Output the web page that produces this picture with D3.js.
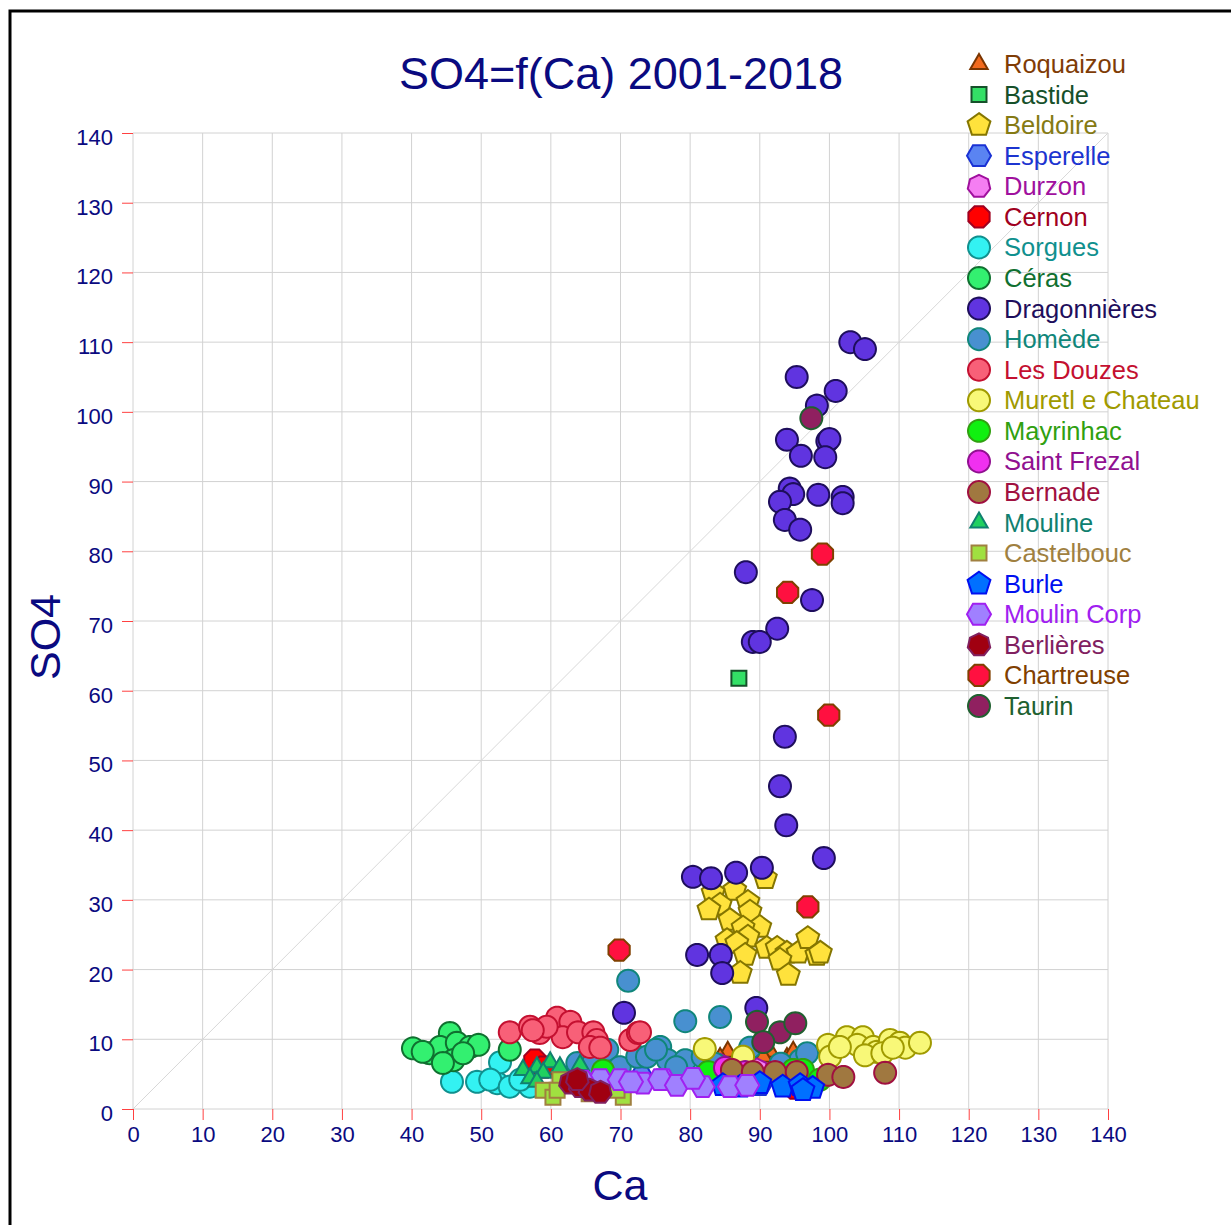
<!DOCTYPE html>
<html><head><meta charset="utf-8">
<script src="https://cdn.jsdelivr.net/npm/d3@7"></script>
<style>body{margin:0;background:#fff}svg{display:block}text{font-family:Arial,"Liberation Sans",sans-serif}</style>
</head><body>
<svg id="c" width="1231" height="1225"></svg>
<script>
const seriesNames = ["Roquaizou","Bastide","Beldoire","Esperelle","Durzon","Cernon","Sorgues","Céras","Dragonnières","Homède","Les Douzes","Muretl e Chateau","Mayrinhac","Saint Frezal","Bernade","Mouline","Castelbouc","Burle","Moulin Corp","Berlières","Chartreuse","Taurin"];
const xTicks = [0,10,20,30,40,50,60,70,80,90,100,110,120,130,140];
const yTicks = [0,10,20,30,40,50,60,70,80,90,100,110,120,130,140];

const roquaizou = [[85.4,8.2],[91.5,8.2],[93.9,7.3],[94.8,8.2],[90.5,7.5],[84.3,7.3],[88.2,7.0]];
const bastide = [[87.0,61.8]];
const beldoire = [[90.8,33.1],[86.4,31.4],[83.3,31.0],[88.3,29.7],[84.3,29.3],[82.7,28.6],[88.6,28.3],[85.7,27.1],[90.0,26.1],[87.6,26.0],[88.3,24.7],[85.3,24.2],[86.7,23.8],[91.0,23.1],[92.5,23.1],[93.9,22.4],[87.9,22.1],[95.5,22.4],[96.9,24.5],[98.2,22.1],[92.9,21.4],[87.2,19.5],[94.1,19.2],[98.7,22.4]];
const esperelle = [[73.0,4.5],[85.0,4.0],[90.0,3.5],[95.0,4.0]];
const durzon = [[84.3,6.3],[85.3,5.6],[88.6,5.3],[89.6,5.6]];
const cernon = [[57.7,7.0],[59.0,6.0],[68.0,5.0],[88.0,4.0],[95.0,3.0]];
const sorgues = [[45.8,3.9],[49.4,3.9],[52.3,3.7],[52.7,6.7],[51.3,4.2],[54.1,3.2],[57.0,3.2],[55.6,4.2]];
const ceras = [[40.2,8.7],[45.5,10.9],[42.6,8.0],[44.1,8.9],[46.5,9.5],[48.4,8.9],[49.6,9.2],[46.0,7.0],[44.5,6.6],[47.4,8.0],[41.6,8.2],[54.1,8.5]];
const dragonnieres = [[103.0,110.0],[105.1,109.0],[95.3,105.0],[100.9,103.0],[98.2,100.9],[93.9,96.0],[99.7,95.8],[100.0,96.1],[95.9,93.7],[99.4,93.5],[94.3,89.0],[94.8,88.2],[98.4,88.1],[92.9,87.1],[101.9,87.8],[101.9,86.9],[93.6,84.5],[95.8,83.1],[88.0,77.0],[97.5,73.0],[92.5,68.9],[89.0,67.0],[90.0,67.0],[93.6,53.4],[92.9,46.3],[93.8,40.7],[99.2,36.0],[80.4,33.3],[83.0,33.1],[86.6,33.9],[90.3,34.6],[81.0,22.1],[84.4,22.1],[84.6,19.5],[70.5,13.8],[89.5,14.5]];
const homede = [[71.1,18.4],[79.3,12.6],[84.3,13.2],[63.8,6.6],[68.1,8.5],[69.9,6.0],[72.4,7.5],[73.8,7.5],[75.7,8.9],[76.8,7.0],[79.3,7.0],[81.8,7.5],[88.6,8.8],[95.8,7.0],[96.8,8.0],[75.1,8.5],[66.0,6.5],[78.0,6.0],[83.5,6.5],[93.0,6.5]];
const lesDouzes = [[54.1,11.0],[57.0,11.8],[60.9,13.1],[62.8,12.5],[58.4,10.9],[61.7,10.3],[63.9,11.0],[66.1,11.0],[66.6,9.9],[65.6,8.9],[67.1,8.8],[71.4,9.9],[72.5,10.9],[59.4,11.8],[57.4,11.3],[72.8,11.0]];
const muretlChateau = [[82.1,8.6],[87.6,7.5],[99.8,9.2],[100.1,7.5],[102.5,10.3],[104.8,10.3],[104.0,9.2],[106.3,8.9],[106.8,8.2],[108.7,9.9],[110.1,9.5],[110.9,8.8],[113.0,9.5],[105.1,7.7],[107.6,8.0],[109.1,8.8],[101.5,8.9]];
const mayrinhac = [[82.6,5.3],[94.8,5.6],[96.2,5.6],[98.6,4.2],[67.5,5.5]];
const saintFrezal = [[85.0,5.9],[87.9,5.3],[88.9,4.4]];
const bernade = [[108.0,5.2],[99.8,4.9],[102.0,4.6],[92.2,5.3],[95.3,5.3],[86.0,5.6],[89.0,5.3]];
const mouline = [[56.0,5.6],[58.0,6.0],[59.9,6.7],[61.3,6.0],[64.2,6.3],[57.0,4.4],[58.9,5.2],[58.0,3.9]];
const castelbouc = [[58.9,2.7],[60.3,1.7],[61.3,4.2],[60.9,2.7],[70.4,1.7],[69.5,2.7],[65.5,2.2]];
const burle = [[84.7,3.4],[87.2,3.2],[90.0,3.7],[93.3,3.2],[95.8,3.4],[97.6,3.0],[96.2,2.7]];
const moulinCorp = [[67.1,4.2],[69.9,4.2],[73.2,3.7],[76.1,4.2],[75.7,4.2],[78.1,3.4],[81.8,3.2],[85.7,3.2],[88.2,3.4],[80.4,4.4],[64.5,4.0],[71.5,3.9]];
const berlieres = [[62.8,3.7],[64.2,3.2],[65.6,2.7],[67.1,2.4],[63.8,4.2]];
const chartreuse = [[99.0,79.6],[94.0,74.1],[99.9,56.5],[96.9,29.0],[69.8,22.8]];
const taurin = [[97.4,99.1],[89.6,12.5],[92.9,11.0],[95.1,12.3],[90.5,9.6]];

const seriesData = [roquaizou,bastide,beldoire,esperelle,durzon,cernon,sorgues,ceras,dragonnieres,homede,lesDouzes,muretlChateau,mayrinhac,saintFrezal,bernade,mouline,castelbouc,burle,moulinCorp,berlieres,chartreuse,taurin];

// styles: [shape, fill, stroke, textColor]
const styles = [
 ["tri","#f26a1e","#7a3500","#7f3c06"],
 ["sq","#33e066","#16502a","#16502a"],
 ["pent","#ffe23c","#857600","#857a14"],
 ["hex","#5a84f2","#1a32d4","#1c34d0"],
 ["hept","#f57ef2","#a0109e","#a0109e"],
 ["oct","#ff0000","#a00020","#a00020"],
 ["circ","#33f2f2","#10908e","#10908e"],
 ["circ","#33f070","#107030","#107030"],
 ["circ","#6034e0","#1e0e5c","#1e0e5c"],
 ["circ","#4890d0","#10867a","#10867a"],
 ["circ","#f86078","#c41030","#c41030"],
 ["circ","#f8f878","#a09a00","#a09a00"],
 ["circ","#10f010","#30a010","#30a010"],
 ["circ","#f030f0","#901090","#901090"],
 ["circ","#a07840","#a01040","#a01040"],
 ["tri","#20d060","#108070","#108070"],
 ["sq","#a0e040","#a08040","#a08040"],
 ["pent","#0070ff","#0010f0","#0010f0"],
 ["hex","#a080ff","#a020f0","#a020f0"],
 ["hept","#a00010","#802060","#802060"],
 ["oct","#ff1040","#804000","#804000"],
 ["circ","#902060","#206030","#206030"]
];

function poly(n, r, rot){
  const pts=[];
  for(let k=0;k<n;k++){const a=rot+k*2*Math.PI/n;pts.push([r*Math.cos(a),r*Math.sin(a)]);}
  return "M"+pts.map(p=>p[0].toFixed(2)+","+p[1].toFixed(2)).join("L")+"Z";
}
function shapePath(s){
  switch(s){
    case "tri": return poly(3,10,-Math.PI/2);
    case "sq": return "M-7.5,-7.5L7.5,-7.5L7.5,7.5L-7.5,7.5Z";
    case "pent": return poly(5,12,-Math.PI/2);
    case "hex": return poly(6,12,0);
    case "hept": return poly(7,11.5,-Math.PI/2);
    case "oct": return poly(8,11.5,Math.PI/8);
    default: return poly(40,11,0);
  }
}

const svg = d3.select("#c");
const x = d3.scaleLinear().domain([0,140]).range([133,1108]);
const y = d3.scaleLinear().domain([0,140]).range([1109,133]);
const navy = "#0a0a80";

// frame
svg.append("rect").attr("x",10).attr("y",11).attr("width",1240).attr("height",1240).attr("fill","none").attr("stroke","#000").attr("stroke-width",3);

// grid
const g = svg.append("g");
g.selectAll(".vx").data(xTicks).join("line").attr("x1",d=>x(d)).attr("x2",d=>x(d)).attr("y1",y(0)).attr("y2",y(140)).attr("stroke","#d2d2d2").attr("stroke-width",1);
g.selectAll(".hy").data(yTicks).join("line").attr("y1",d=>y(d)).attr("y2",d=>y(d)).attr("x1",x(0)).attr("x2",x(140)).attr("stroke","#d2d2d2").attr("stroke-width",1);
g.append("line").attr("x1",x(0)).attr("y1",y(0)).attr("x2",x(140)).attr("y2",y(140)).attr("stroke","#d8d8d8").attr("stroke-width",1);

// axes
const xa = svg.append("g").attr("transform",`translate(0,${y(0)})`).call(d3.axisBottom(x).tickValues(xTicks).tickSize(11).tickPadding(6));
xa.select(".domain").remove();
xa.selectAll(".tick line").attr("stroke","#ff4040").attr("stroke-width",1);
xa.selectAll(".tick text").attr("fill",navy).style("font-size","22px");
const ya = svg.append("g").attr("transform",`translate(${x(0)},0)`).call(d3.axisLeft(y).tickValues(yTicks).tickSize(11).tickPadding(9));
ya.select(".domain").remove();
ya.selectAll(".tick line").attr("stroke","#ff4040").attr("stroke-width",1);
ya.selectAll(".tick text").attr("fill",navy).style("font-size","22px").attr("dy","0.52em");

// titles
svg.append("text").attr("x",621).attr("y",89).attr("text-anchor","middle").attr("fill",navy).style("font-size","45px").text("SO4=f(Ca) 2001-2018");
svg.append("text").attr("x",620).attr("y",1200).attr("text-anchor","middle").attr("fill",navy).style("font-size","43px").text("Ca");
svg.append("text").attr("transform","translate(60,637) rotate(-90)").attr("text-anchor","middle").attr("fill",navy).style("font-size","43px").text("SO4");

// points
const pts = svg.append("g");
seriesData.forEach((data,i)=>{
  const st = styles[i];
  pts.append("g").selectAll("path").data(data).join("path")
    .attr("d",shapePath(st[0]))
    .attr("transform",d=>`translate(${x(d[0])},${y(d[1])})`)
    .attr("fill",st[1]).attr("stroke",st[2]).attr("stroke-width",2);
});

// legend
const lg = svg.append("g");
seriesNames.forEach((name,i)=>{
  const st = styles[i];
  const yy = 64 + i*30.57;
  lg.append("path").attr("d",shapePath(st[0])).attr("transform",`translate(979,${yy})`).attr("fill",st[1]).attr("stroke",st[2]).attr("stroke-width",2);
  lg.append("text").attr("x",1004).attr("y",yy+9).attr("fill",st[3]).style("font-size","25.5px").text(name);
});
</script>
</body></html>
